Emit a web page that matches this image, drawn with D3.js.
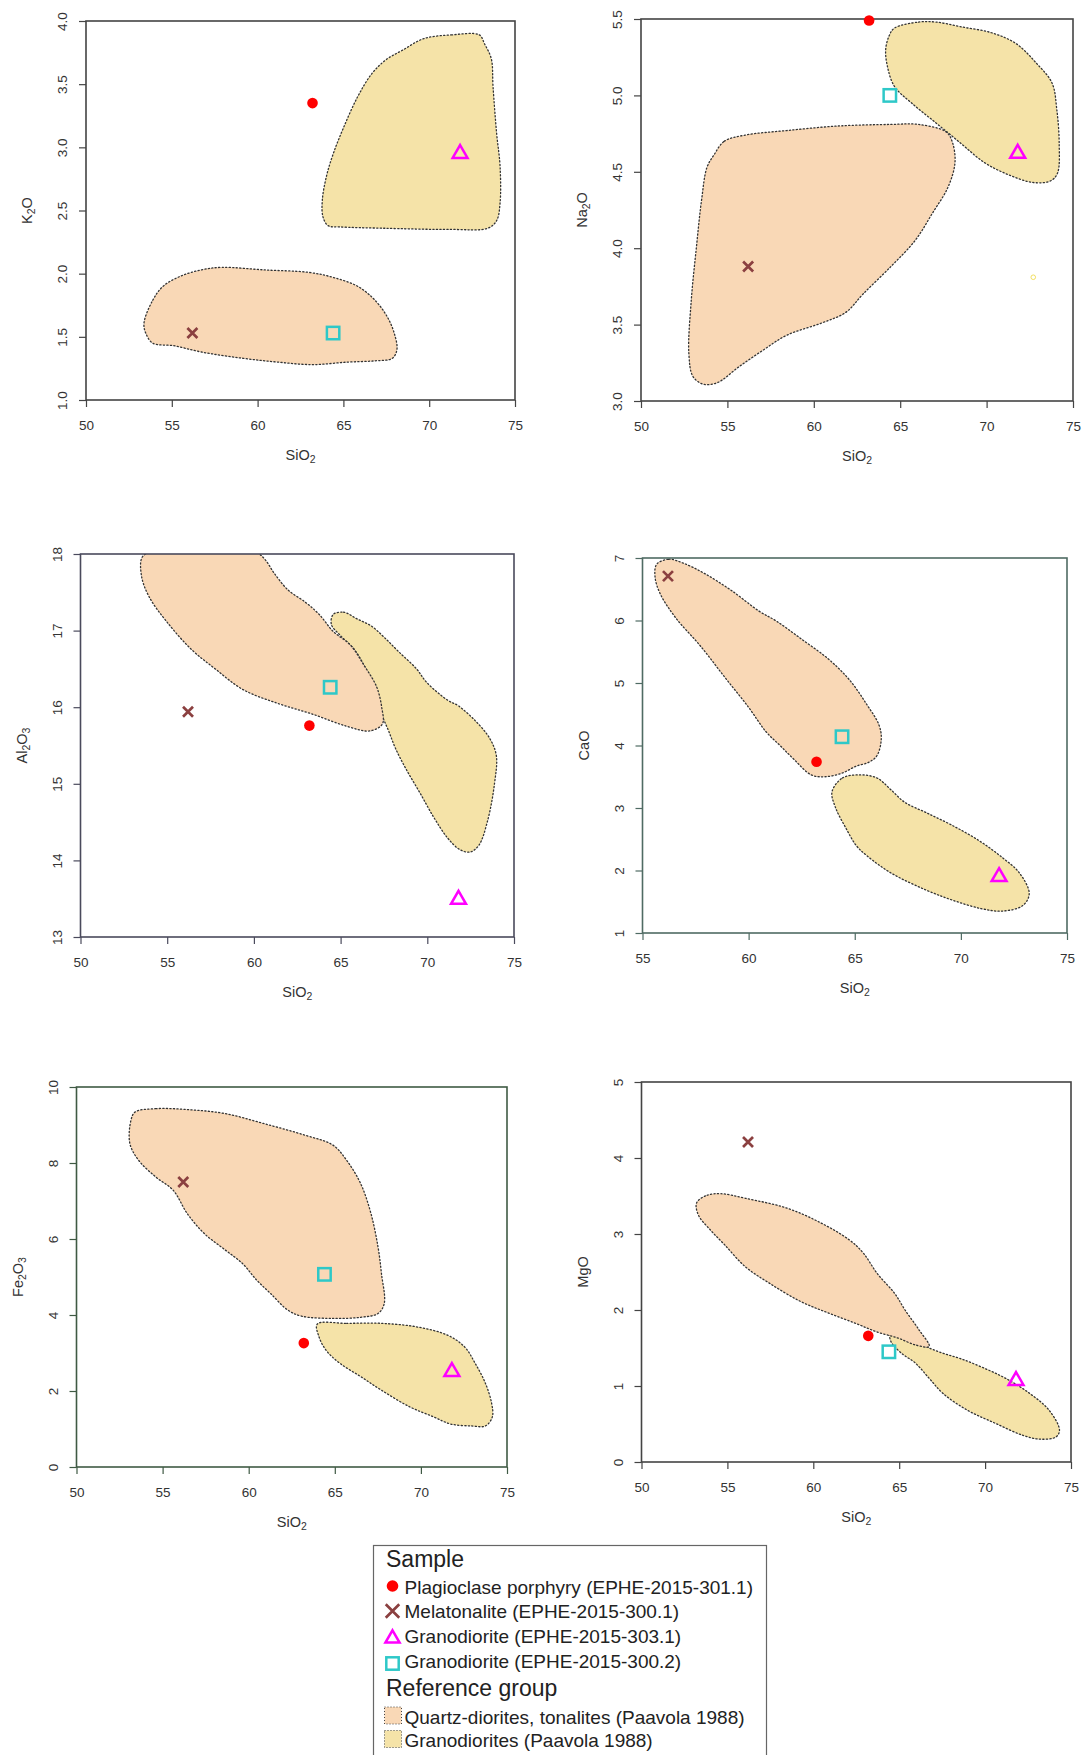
<!DOCTYPE html>
<html>
<head>
<meta charset="utf-8">
<script src="https://cdn.jsdelivr.net/npm/d3@7"></script>
<style>
  body { margin: 0; background: #fff; }
  svg { display: block; }
  text { font-family: "Liberation Sans", Arial, Helvetica, sans-serif; }
</style>
</head>
<body>
<svg id="chart" width="1088" height="1755"></svg>
<script>
// ---- Sample analyses (wt %) ----
const sampleNames = [
  "Plagioclase porphyry (EPHE-2015-301.1)",
  "Melatonalite (EPHE-2015-300.1)",
  "Granodiorite (EPHE-2015-303.1)",
  "Granodiorite (EPHE-2015-300.2)"
];
const sampleSiO2  = [63.2, 56.2, 71.8, 64.4];
const sampleK2O   = [3.35, 1.53, 2.95, 1.53];
const sampleNa2O  = [5.49, 3.88, 4.62, 5.00];
const sampleAl2O3 = [15.76, 15.94, 13.49, 16.26];
const sampleCaO   = [3.74, 6.71, 1.90, 4.14];
const sampleFe2O3 = [3.26, 7.50, 2.51, 5.07];
const sampleMgO   = [1.66, 4.21, 1.07, 1.45];

// stray small marker on the Na2O diagram [SiO2, Na2O]
const na2oStray = [[72.7, 3.81]];

// ---- Reference group fields, outlines as [SiO2, oxide] ----
const groupNames = [
  "Quartz-diorites, tonalites (Paavola 1988)",
  "Granodiorites (Paavola 1988)"
];

const qdK2O = [[53.38,1.61],[53.89,1.79],[54.49,1.90],[55.51,1.98],[56.72,2.03],[57.94,2.05],[60.36,2.03],[62.99,2.01],[64.41,1.97],[65.83,1.90],[66.84,1.79],[67.55,1.66],[67.96,1.53],[68.12,1.40],[67.85,1.33],[66.84,1.31],[65.22,1.30],[63.20,1.28],[61.17,1.30],[59.15,1.33],[56.72,1.38],[55.10,1.43],[53.89,1.45],[53.48,1.53]];
const gdK2O = [[69.68,3.86],[71.30,3.89],[72.92,3.89],[73.22,3.82],[73.62,3.70],[73.72,3.48],[73.93,3.11],[74.13,2.85],[74.13,2.56],[73.93,2.42],[73.42,2.36],[71.30,2.35],[67.25,2.36],[64.82,2.37],[64.11,2.38],[63.81,2.45],[63.77,2.58],[64.01,2.77],[64.41,2.95],[65.02,3.16],[65.83,3.40],[66.64,3.58],[67.45,3.69],[68.46,3.77]];

const qdNa2O = [[54.22,4.61],[54.82,4.70],[56.02,4.74],[58.43,4.77],[61.45,4.80],[64.46,4.81],[66.06,4.81],[67.67,4.76],[68.03,4.69],[68.17,4.56],[67.77,4.40],[66.87,4.23],[65.86,4.05],[64.46,3.88],[62.85,3.70],[61.85,3.58],[60.44,3.51],[58.43,3.43],[57.03,3.33],[55.62,3.22],[54.42,3.12],[53.61,3.11],[53.01,3.16],[52.77,3.31],[52.91,3.66],[53.21,4.01],[53.51,4.32],[53.82,4.53]];
const gdNa2O = [[64.66,5.44],[66.06,5.48],[67.07,5.48],[68.47,5.45],[70.28,5.41],[71.69,5.34],[72.89,5.21],[73.79,5.08],[74.06,4.91],[74.20,4.69],[74.10,4.49],[73.69,4.44],[72.69,4.43],[71.28,4.48],[69.88,4.56],[68.47,4.69],[67.07,4.82],[65.66,4.95],[64.66,5.06],[64.26,5.19],[64.16,5.30],[64.36,5.39]];

const qdAl2O3 = [[53.56,17.96],[54.16,18.03],[56.57,18.03],[59.37,18.04],[60.17,18.02],[60.67,17.92],[61.17,17.75],[61.97,17.53],[62.97,17.37],[63.77,17.21],[64.57,16.99],[65.57,16.81],[66.37,16.54],[67.07,16.27],[67.37,16.00],[67.41,15.78],[66.67,15.69],[65.37,15.75],[63.37,15.91],[61.37,16.05],[59.37,16.23],[57.77,16.50],[56.37,16.76],[54.96,17.12],[53.96,17.44],[53.52,17.71]];
const gdAl2O3 = [[64.57,17.21],[65.17,17.24],[65.97,17.15],[66.77,17.06],[67.57,16.90],[68.37,16.72],[69.38,16.50],[69.98,16.32],[71.18,16.09],[71.78,16.02],[72.78,15.82],[73.58,15.60],[73.98,15.37],[73.88,15.01],[73.48,14.52],[72.98,14.20],[72.48,14.11],[71.88,14.14],[71.18,14.29],[70.38,14.56],[69.58,14.88],[68.78,15.19],[68.17,15.46],[67.77,15.69],[67.37,15.91],[66.97,16.27],[66.37,16.54],[65.77,16.76],[64.97,16.94],[64.47,17.08]];

const qdCaO = [[55.67,6.90],[56.24,6.98],[56.90,6.92],[57.88,6.76],[59.19,6.48],[60.49,6.15],[61.31,5.99],[62.46,5.71],[63.77,5.38],[64.75,5.05],[65.56,4.66],[66.14,4.33],[66.25,4.11],[66.05,3.84],[65.65,3.73],[65.07,3.67],[64.42,3.56],[63.60,3.50],[62.95,3.53],[62.13,3.78],[61.48,4.00],[60.82,4.22],[60.00,4.61],[58.86,5.10],[57.71,5.60],[56.57,6.04],[55.83,6.43],[55.59,6.70]];
const gdCaO = [[63.93,3.26],[64.42,3.48],[65.24,3.53],[66.05,3.48],[66.71,3.29],[67.36,3.09],[68.34,2.93],[69.49,2.74],[70.80,2.49],[71.94,2.21],[72.76,1.96],[73.22,1.63],[72.92,1.44],[71.94,1.35],[70.96,1.39],[69.65,1.52],[68.34,1.69],[66.71,1.96],[65.56,2.24],[65.07,2.40],[64.58,2.68],[64.09,3.01]];

const qdFe2O3 = [[53.40,9.34],[54.61,9.43],[56.63,9.40],[58.64,9.30],[60.86,9.04],[63.28,8.73],[64.89,8.47],[65.69,8.07],[66.50,7.46],[67.10,6.67],[67.51,5.79],[67.71,5.09],[67.87,4.30],[67.51,4.04],[66.50,3.94],[64.89,3.91],[63.07,3.97],[62.27,4.13],[61.26,4.57],[60.46,4.92],[59.65,5.35],[58.64,5.71],[57.43,6.14],[56.43,6.67],[55.62,7.28],[54.61,7.63],[53.61,8.07],[53.10,8.51],[53.16,9.12]];
const gdFe2O3 = [[63.98,3.76],[65.69,3.78],[67.71,3.78],[69.72,3.69],[71.54,3.47],[72.54,3.16],[73.15,2.73],[73.75,2.20],[74.11,1.67],[74.15,1.32],[73.75,1.08],[72.95,1.08],[71.74,1.13],[70.73,1.32],[69.32,1.59],[67.71,2.02],[66.50,2.38],[65.29,2.73],[64.48,3.08],[64.08,3.43]];

const qdMgO = [[53.21,3.41],[53.82,3.51],[54.63,3.53],[56.04,3.47],[58.47,3.34],[60.49,3.14],[62.11,2.92],[62.91,2.75],[63.72,2.48],[64.73,2.22],[65.34,2.00],[66.15,1.74],[66.75,1.52],[65.95,1.54],[64.94,1.63],[63.72,1.71],[62.51,1.82],[60.89,1.96],[59.28,2.11],[57.46,2.35],[56.04,2.57],[54.83,2.86],[54.02,3.05],[53.31,3.25]];
const gdMgO = [[64.53,1.78],[65.54,1.65],[66.55,1.52],[67.56,1.43],[68.57,1.36],[69.79,1.25],[71.20,1.10],[72.61,0.90],[73.73,0.68],[74.33,0.42],[74.13,0.33],[73.22,0.30],[72.21,0.35],[70.59,0.51],[68.98,0.68],[67.56,0.90],[66.75,1.10],[65.95,1.30],[65.14,1.43],[64.53,1.58],[64.43,1.71]];

// ---- Axis ticks ----
const xTicksWide  = [50, 55, 60, 65, 70, 75];
const xTicksCaO   = [55, 60, 65, 70, 75];
const yTicksK2O   = [1.0, 1.5, 2.0, 2.5, 3.0, 3.5, 4.0];
const yTicksNa2O  = [3.0, 3.5, 4.0, 4.5, 5.0, 5.5];
const yTicksAl2O3 = [13, 14, 15, 16, 17, 18];
const yTicksCaO   = [1, 2, 3, 4, 5, 6, 7];
const yTicksFe2O3 = [0, 2, 4, 6, 8, 10];
const yTicksMgO   = [0, 1, 2, 3, 4, 5];

// ---- Styling ----
const fillQD = "#F9D8B6";
const fillGD = "#F5E3A8";
const sampleColors = ["#FF0000", "#8B4040", "#FF00FF", "#2EC8C8"];
const FONT_TICK = 13.5, FONT_TITLE = 14.5;

// panel frames [left, top, right, bottom] in px
const panels = [
  { y: sampleK2O,   yName: ["K", "2", "O"],       qd: qdK2O,   gd: gdK2O,   xd: [50, 75], yd: [1, 4],   xt: xTicksWide, yt: yTicksK2O,   fmt: d3.format(".1f"), frame: [86, 21, 515, 400],     axis: "#444" },
  { y: sampleNa2O,  yName: ["Na", "2", "O"],      qd: qdNa2O,  gd: gdNa2O,  xd: [50, 75], yd: [3, 5.5], xt: xTicksWide, yt: yTicksNa2O,  fmt: d3.format(".1f"), frame: [641, 19, 1073, 401],   axis: "#444", stray: na2oStray },
  { y: sampleAl2O3, yName: ["Al", "2", "O", "3"], qd: qdAl2O3, gd: gdAl2O3, xd: [50, 75], yd: [13, 18], xt: xTicksWide, yt: yTicksAl2O3, fmt: d3.format("d"),   frame: [80.5, 554, 514, 937],  axis: "#4a4a5c" },
  { y: sampleCaO,   yName: ["CaO"],               qd: qdCaO,   gd: gdCaO,   xd: [55, 75], yd: [1, 7],   xt: xTicksCaO,  yt: yTicksCaO,   fmt: d3.format("d"),   frame: [642.5, 558, 1067, 933], axis: "#4f6b63" },
  { y: sampleFe2O3, yName: ["Fe", "2", "O", "3"], qd: qdFe2O3, gd: gdFe2O3, xd: [50, 75], yd: [0, 10],  xt: xTicksWide, yt: yTicksFe2O3, fmt: d3.format("d"),   frame: [76.5, 1087, 507, 1467], axis: "#3f5a44" },
  { y: sampleMgO,   yName: ["MgO"],               qd: qdMgO,   gd: gdMgO,   xd: [50, 75], yd: [0, 5],   xt: xTicksWide, yt: yTicksMgO,   fmt: d3.format("d"),   frame: [641.5, 1082, 1071, 1462], axis: "#444" }
];

const svg = d3.select("#chart");
svg.append("rect").attr("width", 1088).attr("height", 1755).attr("fill", "#fff");

// writes a chemical formula into a text node, numeric parts as subscripts
function formula(textSel, parts, size) {
  parts.forEach(p => {
    const isSub = /^\d+$/.test(p);
    textSel.append("tspan")
      .attr("font-size", isSub ? size * 0.72 : size)
      .attr("baseline-shift", isSub ? "-28%" : null)
      .text(p);
  });
}

function drawMarker(g, kind, x, y, color, scale = 1) {
  if (kind === 0) {
    g.append("circle").attr("cx", x).attr("cy", y).attr("r", 5.3 * scale).attr("fill", color);
  } else if (kind === 1) {
    const h = 5 * scale;
    g.append("path")
      .attr("d", `M${x - h},${y - h}L${x + h},${y + h}M${x - h},${y + h}L${x + h},${y - h}`)
      .attr("stroke", color).attr("stroke-width", 2.7).attr("fill", "none");
  } else if (kind === 2) {
    const r = 8.6 * scale, hw = r * Math.sqrt(3) / 2;
    g.append("path")
      .attr("d", `M${x},${y - r}L${x + hw},${y + r / 2}L${x - hw},${y + r / 2}Z`)
      .attr("stroke", color).attr("stroke-width", 2.5).attr("fill", "none").attr("stroke-linejoin", "miter");
  } else {
    const s = 6.2 * scale;
    g.append("rect").attr("x", x - s).attr("y", y - s).attr("width", 2 * s).attr("height", 2 * s)
      .attr("stroke", color).attr("stroke-width", 2.5).attr("fill", "none");
  }
}

panels.forEach((p, i) => {
  const [L, T, R, B] = p.frame;
  const x = d3.scaleLinear().domain(p.xd).range([L, R]);
  const y = d3.scaleLinear().domain(p.yd).range([B, T]);
  const g = svg.append("g");

  const clipId = "clip" + i;
  svg.append("clipPath").attr("id", clipId)
    .append("rect").attr("x", L).attr("y", T).attr("width", R - L).attr("height", B - T);

  const outline = d3.line().x(d => x(d[0])).y(d => y(d[1]))
    .curve(d3.curveCatmullRomClosed.alpha(0.5));

  const fields = g.append("g").attr("clip-path", `url(#${clipId})`);
  [[p.gd, fillGD], [p.qd, fillQD]].forEach(([pts, fill]) => {
    fields.append("path").attr("d", outline(pts))
      .attr("fill", fill)
      .attr("stroke", "#333").attr("stroke-width", 1.3)
      .attr("stroke-dasharray", "1.2 2.3").attr("stroke-linecap", "round");
  });

  // axes drawn R-style: box frame plus outward ticks
  const xAxis = d3.axisBottom(x).tickValues(p.xt).tickSize(7).tickPadding(0).tickFormat(d3.format("d"));
  const yAxis = d3.axisLeft(y).tickValues(p.yt).tickSize(7).tickPadding(0).tickFormat(p.fmt);

  const gx = g.append("g").attr("transform", `translate(0,${B})`).call(xAxis);
  gx.select(".domain").remove();
  gx.selectAll("line").attr("stroke", p.axis).attr("stroke-width", 1.2);
  gx.selectAll("text").attr("font-size", FONT_TICK).attr("fill", "#333")
    .attr("font-family", "Liberation Sans, Arial, sans-serif")
    .attr("dy", null).attr("y", 30);

  const gy = g.append("g").attr("transform", `translate(${L},0)`).call(yAxis);
  gy.select(".domain").remove();
  gy.selectAll("line").attr("stroke", p.axis).attr("stroke-width", 1.2);
  gy.selectAll("text").attr("font-size", FONT_TICK).attr("fill", "#333")
    .attr("font-family", "Liberation Sans, Arial, sans-serif")
    .attr("x", null).attr("dy", null)
    .attr("text-anchor", "middle")
    .attr("transform", "translate(-19,0) rotate(-90)");

  g.append("rect").attr("x", L).attr("y", T).attr("width", R - L).attr("height", B - T)
    .attr("fill", "none").attr("stroke", p.axis).attr("stroke-width", 1.6);

  // axis titles
  const xt = g.append("text").attr("x", (L + R) / 2).attr("y", B + 60)
    .attr("text-anchor", "middle").attr("fill", "#333");
  formula(xt, ["SiO", "2"], FONT_TITLE);

  const yt = g.append("text")
    .attr("transform", `translate(${L - 54},${(T + B) / 2}) rotate(-90)`)
    .attr("text-anchor", "middle").attr("fill", "#333");
  formula(yt, p.yName, FONT_TITLE);

  // stray marker
  (p.stray || []).forEach(d => {
    g.append("circle").attr("cx", x(d[0])).attr("cy", y(d[1])).attr("r", 2.3)
      .attr("fill", "none").attr("stroke", "#F2E060").attr("stroke-width", 1);
  });

  // sample points
  sampleSiO2.forEach((si, k) => drawMarker(g, k, x(si), y(p.y[k]), sampleColors[k]));
});

// ---- Legend ----
const lg = svg.append("g");
lg.append("rect").attr("x", 373.5).attr("y", 1545.5).attr("width", 393).attr("height", 240)
  .attr("fill", "#fff").attr("stroke", "#666").attr("stroke-width", 1.2);

lg.append("text").attr("x", 386).attr("y", 1567).attr("font-size", 23).attr("fill", "#222").text("Sample");
const itemY = [1593.5, 1618, 1643, 1668];
const symY = [1586, 1611, 1638.5, 1663.5];
sampleNames.forEach((name, k) => {
  drawMarker(lg, k, 392.5, symY[k], sampleColors[k], k === 1 ? 1.35 : k === 2 ? 0.95 : k === 3 ? 1.0 : 1.1);
  lg.append("text").attr("x", 404.5).attr("y", itemY[k]).attr("font-size", 19).attr("fill", "#222").text(name);
});

lg.append("text").attr("x", 386).attr("y", 1696).attr("font-size", 23).attr("fill", "#222").text("Reference group");
const groupY = [1723.5, 1747];
[fillQD, fillGD].forEach((fill, k) => {
  lg.append("rect").attr("x", 384.5).attr("y", groupY[k] - 16.5).attr("width", 17).attr("height", 17)
    .attr("fill", fill).attr("stroke", "#444").attr("stroke-width", 1)
    .attr("stroke-dasharray", "1 2");
  lg.append("text").attr("x", 404.5).attr("y", groupY[k]).attr("font-size", 19).attr("fill", "#222").text(groupNames[k]);
});
</script>
</body>
</html>
